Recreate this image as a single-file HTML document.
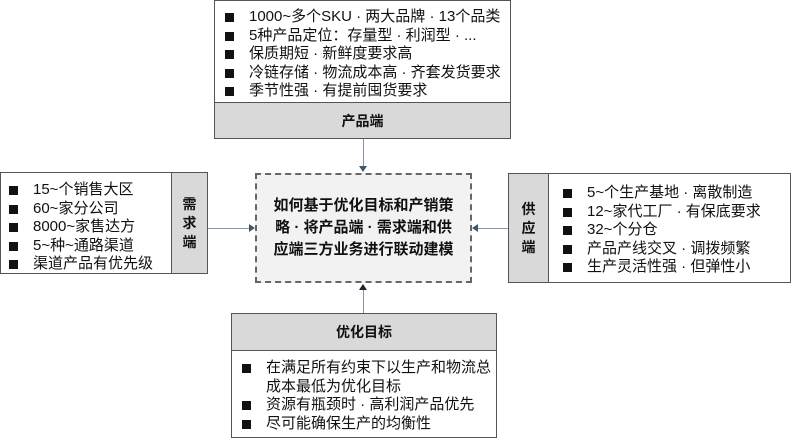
<html><head><style>
body{margin:0;width:792px;height:439px;background:#fff;position:relative;font-family:"Liberation Sans","Noto Sans CJK SC",sans-serif;color:#111;overflow:hidden}
.b{position:absolute;box-sizing:border-box;border:1px solid #555}
.g{background:#d9d9d9;position:absolute;box-sizing:border-box;display:flex;align-items:center;justify-content:center;font-weight:bold;font-size:14px}
ul{list-style:none;margin:0;padding:0;position:absolute;font-size:15px;line-height:18.5px;white-space:nowrap}
li{position:relative;padding-left:26px}
li:before{content:"";position:absolute;left:2px;top:5px;width:9px;height:9px;background:#111}
.ln{position:absolute;background:#8496b0}
</style></head><body>
<div class="b" style="left:214px;top:0;width:297px;height:139px">
<ul style="left:8px;top:7px"><li>1000~多个SKU · 两大品牌 · 13个品类</li><li>5种产品定位：存量型 · 利润型 · ...</li><li>保质期短 · 新鲜度要求高</li><li>冷链存储 · 物流成本高 · 齐套发货要求</li><li>季节性强 · 有提前囤货要求</li></ul>
<div class="g" style="left:0;top:101px;width:295px;height:36px;border-top:1px solid #555">产品端</div></div>
<div class="ln" style="left:363px;top:139px;width:1px;height:30px"></div>
<div style="position:absolute;left:359px;top:166px;border-left:4px solid transparent;border-right:4px solid transparent;border-top:6px solid #44546a"></div>

<div class="b" style="left:0;top:172px;width:208px;height:102px">
<ul style="left:6px;top:8px"><li>15~个销售大区</li><li>60~家分公司</li><li>8000~家售达方</li><li>5~种~通路渠道</li><li>渠道产品有优先级</li></ul>
<div class="g" style="left:170px;top:0;width:36px;height:100px;border-left:1px solid #555;line-height:19px;text-align:center">需<br>求<br>端</div></div>
<div class="ln" style="left:208px;top:228px;width:42px;height:1px"></div>
<div style="position:absolute;left:249px;top:224px;border-top:4px solid transparent;border-bottom:4px solid transparent;border-left:6px solid #44546a"></div>

<div style="position:absolute;left:255px;top:173px;width:217px;height:110px;box-sizing:border-box;border:2px dashed #666;background:#f2f2f2;display:flex;align-items:center;justify-content:center;text-align:center;font-weight:bold;font-size:15px;line-height:22px">如何基于优化目标和产销策<br>略 · 将产品端 · 需求端和供<br>应端三方业务进行联动建模</div>

<div class="ln" style="left:478px;top:228px;width:30px;height:1px"></div>
<div style="position:absolute;left:472px;top:224px;border-top:4px solid transparent;border-bottom:4px solid transparent;border-right:6px solid #44546a"></div>
<div class="b" style="left:508px;top:173px;width:283px;height:110px">
<div class="g" style="left:0;top:0;width:40px;height:108px;border-right:1px solid #555;line-height:19px;text-align:center">供<br>应<br>端</div>
<ul style="left:52px;top:10px"><li>5~个生产基地 · 离散制造</li><li>12~家代工厂 · 有保底要求</li><li>32~个分仓</li><li>产品产线交叉 · 调拨频繁</li><li>生产灵活性强 · 但弹性小</li></ul></div>

<div class="ln" style="left:363px;top:290px;width:1px;height:24px"></div>
<div style="position:absolute;left:359px;top:284px;border-left:4px solid transparent;border-right:4px solid transparent;border-bottom:6px solid #222"></div>
<div class="b" style="left:231px;top:313px;width:266px;height:125px">
<div class="g" style="left:0;top:0;width:264px;height:37px;border-bottom:1px solid #555">优化目标</div>
<ul style="left:8px;top:45px"><li>在满足所有约束下以生产和物流总<br>成本最低为优化目标</li><li>资源有瓶颈时 · 高利润产品优先</li><li>尽可能确保生产的均衡性</li></ul></div>
</body></html>
